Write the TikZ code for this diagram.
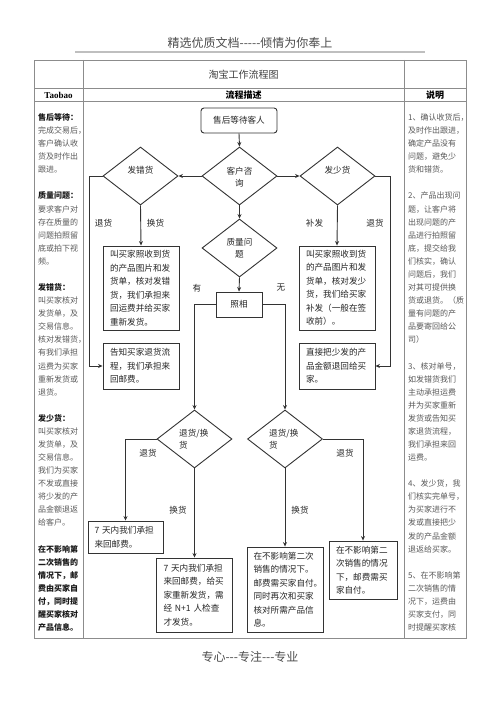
\documentclass[tikz,border=0pt]{standalone}
\usepackage{fontspec}
\setmainfont{Liberation Serif}
\newfontfamily\cjk{Noto Sans CJK SC}
\usetikzlibrary{shapes.geometric,arrows.meta}
\newcommand\hp[1]{\makebox[0.5em][l]{#1}}
\begin{document}
\begin{tikzpicture}[x=1pt,y=-1pt,
  tline/.style={draw=black!45, line width=0.9pt},
  fbox/.style={draw=black!80, line width=0.9pt, inner sep=0pt, align=left, text=black!85, font=\cjk\fontsize{8.6}{13.5}\selectfont},
  dia/.style={draw=black!80, line width=0.9pt, shape=diamond, inner sep=0pt, minimum width=75, minimum height=58},
  conn/.style={draw=black!80, line width=0.9pt, -{Stealth[length=4.5pt,width=4pt]}},
  lbl/.style={font=\cjk\fontsize{8.6}{12}\selectfont, text=black!85, inner sep=0pt, align=center},
  coltext/.style={inner sep=0pt, align=left, text=black!65, font=\cjk\fontsize{8.0}{13.08}\selectfont},
]
\useasboundingbox (0,0) rectangle (500,708);
\fill[white] (0,0) rectangle (500,708);

% page header / footer
\node[font=\cjk\fontsize{12}{14}\selectfont, text=black!70] (hdr) at (250,43) {精选优质文档-----倾情为你奉上};
\draw[draw=black!25, line width=1.8pt] (75,52) -- (425,52);
\node[font=\cjk\fontsize{12}{14}\selectfont, text=black!70] (ftr) at (250,657) {专心---专注---专业};

% table
\draw[tline] (34,60) rectangle (466,638);
\draw[tline] (34,88) -- (466,88);
\draw[tline] (34,101) -- (466,101);
\draw[tline] (83,60) -- (83,638);
\draw[tline] (404,60) -- (404,638);

\node[font=\cjk\fontsize{10}{12}\selectfont, text=black!75] (title) at (243.5,75) {淘宝工作流程图};
\node[font=\bfseries\fontsize{9}{11}\selectfont] (hTaobao) at (58.5,95) {Taobao};
\node[font=\cjk\bfseries\fontsize{9}{11}\selectfont] (hFlow) at (243.5,95) {流程描述};
\node[font=\cjk\bfseries\fontsize{9}{11}\selectfont] (hNote) at (435,95) {说明};

% left column
\node[coltext, anchor=base west, text width=44] (lefttxt) at (38,120.5) {%
{\bfseries\color{black!90}售后等待：}\\
完成交易后\hp{，}\\
客户确认收\\
货及时作出\\
跟进。\\[13.08pt]
{\bfseries\color{black!90}质量问题：}\\
要求客户对\\
存在质量的\\
问题拍照留\\
底或拍下视\\
频。\\[13.08pt]
{\bfseries\color{black!90}发错货：}\\
叫买家核对\\
发货单，及\\
交易信息。\\
核对发错货\hp{，}\\
有我们承担\\
运费为买家\\
重新发货或\\
退货。\\[13.08pt]
{\bfseries\color{black!90}发少货：}\\
叫买家核对\\
发货单，及\\
交易信息。\\
我们为买家\\
不发或直接\\
将少发的产\\
品金额退返\\
给客户。\\[13.08pt]
{\bfseries\color{black!90}在不影响第}\\
{\bfseries\color{black!90}二次销售的}\\
{\bfseries\color{black!90}情况下，邮}\\
{\bfseries\color{black!90}费由买家自}\\
{\bfseries\color{black!90}付，同时提}\\
{\bfseries\color{black!90}醒买家核对}\\
{\bfseries\color{black!90}产品信息。}};

% right column
\node[coltext, anchor=base west, text width=56, font=\cjk\fontsize{8.0}{13.08}\selectfont] (righttxt) at (408,120.5) {%
1、确认收货后\hp{，}\\
及时作出跟进\hp{，}\\
确定产品没有\\
问题，避免少\\
货和错货。\\[13.08pt]
2、产品出现问\\
题，让客户将\\
出现问题的产\\
品进行拍照留\\
底，提交给我\\
们核实，确认\\
问题后，我们\\
对其可提供换\\
货或退货。（质\\
量有问题的产\\
品要寄回给公\\
司）\\[13.08pt]
3、核对单号\hp{，}\\
如发错货我们\\
主动承担运费\\
并为买家重新\\
发货或告知买\\
家退货流程\hp{，}\\
我们承担来回\\
运费。\\[13.08pt]
4、发少货，我\\
们核实完单号\hp{，}\\
为买家进行不\\
发或直接把少\\
发的产品金额\\
退返给买家。\\[13.08pt]
5、在不影响第\\
二次销售的情\\
况下，运费由\\
买家支付，同\\
时提醒买家核};

% flowchart nodes
\node[draw=black!80, line width=0.9pt, rounded corners=3pt, minimum width=76, minimum height=25, inner sep=0pt, text=black!85, font=\cjk\fontsize{8.6}{10}\selectfont] (start) at (239,120.5) {售后等待客人};

\node[dia] (c1) at (239.5,176) {};
\node[lbl] (c1t) at (239.5,177) {客户咨\\询};
\node[dia] (d1) at (140.5,176) {};
\node[lbl] (d1t) at (140.5,170) {发错货};
\node[dia] (d2) at (337.5,176) {};
\node[lbl] (d2t) at (337.5,170) {发少货};
\node[dia] (q) at (239.5,248) {};
\node[lbl] (qt) at (239.5,248.5) {质量问\\题};

\node[fbox, text width=62, minimum width=76, minimum height=84] (b1) at (141,288) {叫买家照收到货\\的产品图片和发\\货单，核对发错\\货，我们承担来\\回运费并给买家\\重新发货。};
\node[fbox, text width=62, minimum width=76, minimum height=46] (b2) at (141,366) {告知买家退货流\\程，我们承担来\\回邮费。};
\node[fbox, text width=62, minimum width=76, minimum height=84] (b3) at (337,288) {叫买家照收到货\\的产品图片和发\\货单，核对发少\\货，我们给买家\\补发（一般在签\\收前）。};
\node[fbox, text width=62, minimum width=76, minimum height=46] (b4) at (337,366) {直接把少发的产\\品金额退回给买\\家。};

\node[fbox, align=center, minimum width=46, minimum height=25] (photo) at (239,304.5) {照相};

\node[dia] (L) at (194.5,439) {};
\node[lbl, anchor=west, align=left] (Lt) at (179,439) {退货/换\\货};
\node[dia] (R) at (285,439) {};
\node[lbl, anchor=west, align=left] (Rt) at (269,439) {退货/换\\货};

\node[fbox, text width=62, minimum width=75, minimum height=32] (e1) at (125.5,537) {7 天内我们承担\\来回邮费。};
\node[fbox, text width=62, minimum width=76, minimum height=74] (e2) at (194.5,595) {7 天内我们承担\\来回邮费，给买\\家重新发货，需\\经 N+1 人检查\\才发货。};
\node[fbox, text width=63, minimum width=76, minimum height=85] (e3) at (285,589.5) {在不影响第二次\\销售的情况下。\\邮费需买家自付\hp{。}\\同时再次和买家\\核对所需产品信\\息。};
\node[fbox, text width=54, minimum width=68, minimum height=58] (e4) at (363,570) {在不影响第二\\次销售的情况\\下，邮费需买\\家自付。};

% connectors
\draw[conn] (start.south) -- (c1.north);
\draw[conn] (c1.west) -- (d1.east);
\draw[conn] (c1.east) -- (d2.west);
\draw[conn] (c1.south) -- (q.north);
\draw[conn] (d1.south) -- (b1.north);
\draw[conn] (d2.south) -- (b3.north);
\draw[conn] (d1.west) -- ++(-13,0) |- (b2.west);
\draw[conn] (d2.east) -- ++(15,0) |- (b4.east);
\draw[conn] (q.south) -- (photo.north);
\draw[conn] (photo.west) -| (L.north);
\draw[conn] (photo.east) -| (R.north);
\draw[conn] (L.west) -| (e1.north);
\draw[conn] (L.south) -- (e2.north);
\draw[conn] (R.south) -- (e3.north);
\draw[conn] (R.east) -| (e4.north);

% connector labels
\node[lbl] (l1) at (103.5,223) {退货};
\node[lbl] (l2) at (155.5,223) {换货};
\node[lbl] (l3) at (314.5,223) {补发};
\node[lbl] (l4) at (375,223) {退货};
\node[lbl] (l5) at (197,288) {有};
\node[lbl] (l6) at (281,288) {无};
\node[lbl] (l7) at (148,453) {退货};
\node[lbl] (l8) at (178,510) {换货};
\node[lbl] (l9) at (300,510) {换货};
\node[lbl] (l10) at (345,453) {退货};
\end{tikzpicture}
\end{document}
